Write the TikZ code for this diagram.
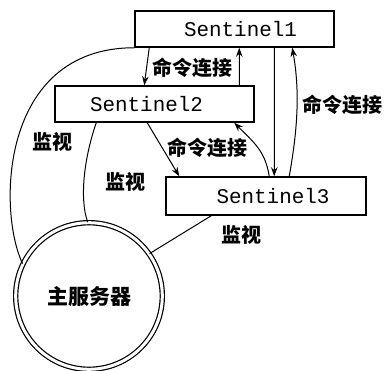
\documentclass[tikz,border=0pt]{standalone}
\usepackage{fontspec}
\newfontfamily\cjk{Noto Sans CJK SC}
\newfontfamily\mono{Liberation Mono}
\usetikzlibrary{arrows.meta}
\begin{document}
\begin{tikzpicture}[x=1bp,y=-1bp,
  box/.style={draw, line width=1.5bp, fill=white, minimum width=199bp, minimum height=36bp, inner sep=0pt, font=\mono\fontsize{20.9bp}{24bp}\selectfont},
  conn/.style={line width=1bp, -{Stealth[length=9bp,width=6.5bp]}},
  mon/.style={line width=1bp},
  lbl/.style={font=\cjk\bfseries\fontsize{20bp}{24bp}\selectfont, inner sep=0pt}]
\useasboundingbox (0,0) rectangle (387,371);
\node[box] (s1) at (234.5,29) {\hspace*{12bp}Sentinel1};
\node[box] (s2) at (154.5,104) {Sentinel2\hspace*{16bp}};
\node[box, minimum width=200bp, minimum height=38bp] (s3) at (266,196) {\hspace*{14bp}Sentinel3};
\node[circle, draw, double, double distance=3bp, line width=1.2bp, minimum size=146.6bp, inner sep=0pt, font=\cjk\bfseries\fontsize{21bp}{24bp}\selectfont] (m) at (89,296) {主服务器};
\draw[conn] ([xshift=15bp]s1.south west) -- ([xshift=90bp]s2.north west);
\draw[conn] ([xshift=185bp]s2.north west) -- ([xshift=105bp]s1.south west);
\draw[conn] ([xshift=140bp]s1.south west) -- ([xshift=109bp]s3.north west);
\draw[conn] ([xshift=124bp]s3.north west) .. controls +(8,-45) and +(8,45) .. ([xshift=158bp]s1.south west);
\draw[conn] ([xshift=93bp]s2.south west) -- ([xshift=14bp]s3.north west);
\draw[conn] ([xshift=104bp]s3.north west) .. controls +(-4,-25) and +(20,20) .. ([xshift=180bp]s2.south west);
\node[lbl] (l1) at (192,68) {命令连接};
\node[lbl] (l2) at (342,105) {命令连接};
\node[lbl] (l3) at (207,148) {命令连接};
\node[lbl] (w1) at (52,142) {监视};
\node[lbl] (w2) at (125,182) {监视};
\node[lbl] (w3) at (241,235) {监视};
\draw[mon] (s1.south west) .. controls +(-135,0) and +(-25,-52) .. (m.154);
\draw[mon] ([xshift=42bp]s2.south west) .. controls +(-13,38) and +(-8,-22) .. (m.91);
\draw[mon] ([xshift=46bp]s3.south west) -- (m.35);
\end{tikzpicture}
\end{document}
